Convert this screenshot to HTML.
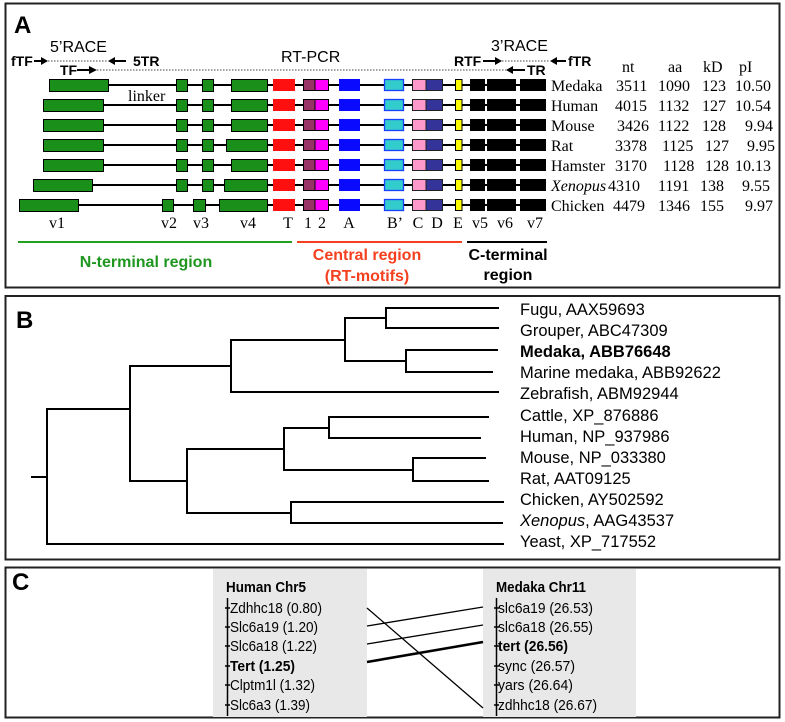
<!DOCTYPE html>
<html><head><meta charset="utf-8"><style>
html,body{margin:0;padding:0;background:#fff;}
svg{display:block;}
.s{font-family:"Liberation Sans",Arial,sans-serif;}
.t{font-family:"Liberation Serif","Times New Roman",serif;}
</style></head><body>
<svg width="785" height="722" viewBox="0 0 785 722" xmlns="http://www.w3.org/2000/svg">
<rect width="785" height="722" fill="#fff"/>
<!-- Panel borders -->
<rect x="5.5" y="3.5" width="774" height="284" fill="none" stroke="#222" stroke-width="2"/>
<rect x="5.5" y="296" width="774" height="263.5" fill="none" stroke="#222" stroke-width="2"/>
<rect x="5.5" y="567.5" width="774" height="150" fill="none" stroke="#222" stroke-width="2"/>

<!-- ============ PANEL A ============ -->
<text x="14" y="33" class="s" font-size="24" font-weight="bold">A</text>
<text x="50" y="52" class="s" font-size="16">5’RACE</text>
<text x="491" y="51" class="s" font-size="16">3’RACE</text>
<text x="281" y="62" class="s" font-size="16">RT-PCR</text>
<g class="s" font-size="14" font-weight="bold">
<text x="11" y="66">fTF</text>
<text x="133" y="66">5TR</text>
<text x="60" y="75">TF</text>
<text x="454" y="66">RTF</text>
<text x="568" y="66">fTR</text>
<text x="527" y="75">TR</text>
</g>
<g stroke="#444" stroke-width="1" stroke-dasharray="1.5 1.5">
<line x1="48" y1="61" x2="108" y2="61"/>
<line x1="97" y1="70" x2="506" y2="70"/>
<line x1="502" y1="61" x2="550" y2="61"/>
</g>
<g stroke="#000" stroke-width="2">
<line x1="34" y1="61" x2="43" y2="61"/>
<line x1="113" y1="61" x2="126" y2="61"/>
<line x1="77" y1="70" x2="91" y2="70"/>
<line x1="483" y1="61" x2="496" y2="61"/>
<line x1="555" y1="61" x2="566" y2="61"/>
<line x1="511" y1="70" x2="525" y2="70"/>
</g>
<g fill="#000">
<polygon points="41,57 48,61 41,65"/>
<polygon points="115,57 108,61 115,65"/>
<polygon points="89,66 97,70 89,74"/>
<polygon points="495,57 502,61 495,65"/>
<polygon points="557,57 550,61 557,65"/>
<polygon points="513,66 506,70 513,74"/>
</g>
<text x="128" y="101" class="t" font-size="16">linker</text>

<!-- rows -->
<g>
<line x1="49" y1="85" x2="546" y2="85" stroke="#000" stroke-width="2"/>
<rect x="49.5" y="79.5" width="59" height="12" fill="#1a8f1a" stroke="#000"/>
<rect x="176.5" y="79.5" width="11" height="12" fill="#1a8f1a" stroke="#000"/>
<rect x="202.5" y="79.5" width="11" height="12" fill="#1a8f1a" stroke="#000"/>
<rect x="231.5" y="79.5" width="36" height="12" fill="#1a8f1a" stroke="#000"/>
</g>
<g>
<line x1="43" y1="105" x2="546" y2="105" stroke="#000" stroke-width="2"/>
<rect x="43.5" y="99.5" width="60" height="12" fill="#1a8f1a" stroke="#000"/>
<rect x="176.5" y="99.5" width="11" height="12" fill="#1a8f1a" stroke="#000"/>
<rect x="202.5" y="99.5" width="11" height="12" fill="#1a8f1a" stroke="#000"/>
<rect x="231.5" y="99.5" width="36" height="12" fill="#1a8f1a" stroke="#000"/>
</g>
<g>
<line x1="43" y1="125" x2="546" y2="125" stroke="#000" stroke-width="2"/>
<rect x="43.5" y="119.5" width="60" height="12" fill="#1a8f1a" stroke="#000"/>
<rect x="176.5" y="119.5" width="11" height="12" fill="#1a8f1a" stroke="#000"/>
<rect x="202.5" y="119.5" width="11" height="12" fill="#1a8f1a" stroke="#000"/>
<rect x="231.5" y="119.5" width="36" height="12" fill="#1a8f1a" stroke="#000"/>
</g>
<g>
<line x1="43" y1="145" x2="546" y2="145" stroke="#000" stroke-width="2"/>
<rect x="43.5" y="139.5" width="60" height="12" fill="#1a8f1a" stroke="#000"/>
<rect x="176.5" y="139.5" width="11" height="12" fill="#1a8f1a" stroke="#000"/>
<rect x="202.5" y="139.5" width="11" height="12" fill="#1a8f1a" stroke="#000"/>
<rect x="226.5" y="139.5" width="41" height="12" fill="#1a8f1a" stroke="#000"/>
</g>
<g>
<line x1="43" y1="165" x2="546" y2="165" stroke="#000" stroke-width="2"/>
<rect x="43.5" y="159.5" width="60" height="12" fill="#1a8f1a" stroke="#000"/>
<rect x="176.5" y="159.5" width="11" height="12" fill="#1a8f1a" stroke="#000"/>
<rect x="202.5" y="159.5" width="11" height="12" fill="#1a8f1a" stroke="#000"/>
<rect x="231.5" y="159.5" width="36" height="12" fill="#1a8f1a" stroke="#000"/>
</g>
<g>
<line x1="33" y1="185" x2="546" y2="185" stroke="#000" stroke-width="2"/>
<rect x="33.5" y="179.5" width="59" height="12" fill="#1a8f1a" stroke="#000"/>
<rect x="176.5" y="179.5" width="11" height="12" fill="#1a8f1a" stroke="#000"/>
<rect x="202.5" y="179.5" width="11" height="12" fill="#1a8f1a" stroke="#000"/>
<rect x="224.5" y="179.5" width="43" height="12" fill="#1a8f1a" stroke="#000"/>
</g>
<g>
<line x1="19" y1="205" x2="546" y2="205" stroke="#000" stroke-width="2"/>
<rect x="19.5" y="199.5" width="59" height="12" fill="#1a8f1a" stroke="#000"/>
<rect x="162.5" y="199.5" width="11" height="12" fill="#1a8f1a" stroke="#000"/>
<rect x="193.5" y="199.5" width="12" height="12" fill="#1a8f1a" stroke="#000"/>
<rect x="219.5" y="199.5" width="48" height="12" fill="#1a8f1a" stroke="#000"/>
</g>
<defs>
<g id="cb">
<rect x="273" y="79" width="22" height="12" fill="#ff1010"/>
<rect x="303.5" y="79.5" width="11.5" height="11" fill="#993366" stroke="#000"/>
<rect x="315" y="79.5" width="13.5" height="11" fill="#ff00ff" stroke="#000"/>
<rect x="339" y="79" width="21" height="12" fill="#0a0aff"/>
<rect x="384.5" y="79.5" width="19" height="11" fill="#33cccc" stroke="#1a40ff" stroke-width="1.3"/>
<rect x="412.5" y="79.5" width="13.5" height="11" fill="#ff99cc" stroke="#222"/>
<rect x="426" y="79.5" width="16.5" height="11" fill="#333399" stroke="#222"/>
<rect x="455.5" y="79.5" width="6.5" height="11" fill="#ffff00" stroke="#000"/>
<rect x="470" y="79" width="15" height="12" fill="#000"/>
<rect x="487" y="79" width="29" height="12" fill="#000"/>
<rect x="520" y="79" width="26" height="12" fill="#000"/>
</g>
</defs>
<use href="#cb" x="0" y="0"/>
<use href="#cb" x="0" y="20"/>
<use href="#cb" x="0" y="40"/>
<use href="#cb" x="0" y="60"/>
<use href="#cb" x="0" y="80"/>
<use href="#cb" x="0" y="100"/>
<use href="#cb" x="0" y="120"/>

<!-- table -->
<g class="t" font-size="16" fill="#000">
<text x="622" y="72">nt</text>
<text x="668" y="72">aa</text>
<text x="703" y="72">kD</text>
<text x="739" y="72">pI</text>

<text x="551" y="91">Medaka</text><text x="616" y="91">3511</text><text x="658" y="91">1090</text><text x="702" y="91">123</text><text x="735" y="91">10.50</text>
<text x="551" y="111">Human</text><text x="615" y="111">4015</text><text x="658" y="111">1132</text><text x="702" y="111">127</text><text x="735" y="111">10.54</text>
<text x="551" y="131">Mouse</text><text x="617" y="131">3426</text><text x="658" y="131">1122</text><text x="702" y="131">128</text><text x="745" y="131">9.94</text>
<text x="551" y="151">Rat</text><text x="615" y="151">3378</text><text x="662" y="151">1125</text><text x="705" y="151">127</text><text x="747" y="151">9.95</text>
<text x="551" y="171">Hamster</text><text x="615" y="171">3170</text><text x="663" y="171">1128</text><text x="705" y="171">128</text><text x="735" y="171">10.13</text>
<text x="551" y="191" font-style="italic">Xenopus</text><text x="608" y="191">4310</text><text x="658" y="191">1191</text><text x="700" y="191">138</text><text x="742" y="191">9.55</text>
<text x="551" y="211">Chicken</text><text x="613" y="211">4479</text><text x="658" y="211">1346</text><text x="700" y="211">155</text><text x="745" y="211">9.97</text>
</g>

<!-- domain labels -->
<g class="t" font-size="16" text-anchor="middle">
<text x="57" y="228">v1</text>
<text x="169" y="228">v2</text>
<text x="201" y="228">v3</text>
<text x="248" y="228">v4</text>
<text x="288" y="228">T</text>
<text x="308" y="228">1</text>
<text x="322" y="228">2</text>
<text x="349" y="228">A</text>
<text x="395" y="228">B’</text>
<text x="418" y="228">C</text>
<text x="437" y="228">D</text>
<text x="458" y="228">E</text>
<text x="480" y="228">v5</text>
<text x="505" y="228">v6</text>
<text x="535" y="228">v7</text>
</g>
<line x1="18" y1="242" x2="292" y2="242" stroke="#22a022" stroke-width="2"/>
<line x1="297" y1="242" x2="462" y2="242" stroke="#f5401f" stroke-width="2"/>
<line x1="467" y1="242" x2="547" y2="242" stroke="#000" stroke-width="2"/>
<g class="s" font-size="16" font-weight="bold" text-anchor="middle">
<text x="146" y="267" fill="#1f961f">N-terminal region</text>
<text x="367" y="260" fill="#f5401f">Central region</text>
<text x="367" y="281" fill="#f5401f">(RT-motifs)</text>
<text x="508" y="260" fill="#000">C-terminal</text>
<text x="508" y="280" fill="#000">region</text>
</g>

<!-- ============ PANEL B ============ -->
<text x="16" y="328" class="s" font-size="24" font-weight="bold">B</text>
<g stroke="#000" stroke-width="2" fill="none" stroke-linecap="square">
<line x1="32" y1="477" x2="47" y2="477"/>
<line x1="47" y1="409" x2="47" y2="544"/>
<line x1="47" y1="544" x2="503" y2="544"/>
<line x1="47" y1="409" x2="130" y2="409"/>
<line x1="130" y1="366" x2="130" y2="481"/>
<line x1="130" y1="366" x2="231" y2="366"/>
<line x1="231" y1="340" x2="231" y2="392"/>
<line x1="231" y1="392" x2="498" y2="392"/>
<line x1="231" y1="340" x2="345" y2="340"/>
<line x1="345" y1="318" x2="345" y2="361"/>
<line x1="345" y1="318" x2="386" y2="318"/>
<line x1="386" y1="308" x2="386" y2="328"/>
<line x1="386" y1="308" x2="498" y2="308"/>
<line x1="386" y1="328" x2="498" y2="328"/>
<line x1="345" y1="361" x2="406" y2="361"/>
<line x1="406" y1="350" x2="406" y2="372"/>
<line x1="406" y1="350" x2="497" y2="350"/>
<line x1="406" y1="372" x2="492" y2="372"/>
<line x1="130" y1="481" x2="187" y2="481"/>
<line x1="187" y1="449" x2="187" y2="513"/>
<line x1="187" y1="449" x2="284" y2="449"/>
<line x1="284" y1="428" x2="284" y2="470"/>
<line x1="284" y1="428" x2="329" y2="428"/>
<line x1="329" y1="417" x2="329" y2="438"/>
<line x1="329" y1="417" x2="488" y2="417"/>
<line x1="329" y1="438" x2="480" y2="438"/>
<line x1="284" y1="470" x2="413" y2="470"/>
<line x1="413" y1="458" x2="413" y2="481"/>
<line x1="413" y1="458" x2="485" y2="458"/>
<line x1="413" y1="481" x2="488" y2="481"/>
<line x1="187" y1="513" x2="291" y2="513"/>
<line x1="291" y1="502" x2="291" y2="523"/>
<line x1="291" y1="502" x2="503" y2="502"/>
<line x1="291" y1="523" x2="502" y2="523"/>
</g>
<g class="s" font-size="16.5" fill="#000">
<text x="520" y="315">Fugu, AAX59693</text>
<text x="520" y="336">Grouper, ABC47309</text>
<text x="520" y="357" font-weight="bold">Medaka, ABB76648</text>
<text x="520" y="378">Marine medaka, ABB92622</text>
<text x="520" y="399">Zebrafish, ABM92944</text>
<text x="520" y="421">Cattle, XP_876886</text>
<text x="520" y="442">Human, NP_937986</text>
<text x="520" y="463">Mouse, NP_033380</text>
<text x="520" y="484">Rat, AAT09125</text>
<text x="520" y="505">Chicken, AY502592</text>
<text x="520" y="526"><tspan font-style="italic">Xenopus</tspan>, AAG43537</text>
<text x="520" y="547">Yeast, XP_717552</text>
</g>

<!-- ============ PANEL C ============ -->
<text x="12" y="590" class="s" font-size="24" font-weight="bold">C</text>
<rect x="213" y="569" width="154" height="148" fill="#e8e8e8"/>
<rect x="483" y="569" width="153" height="148" fill="#e8e8e8"/>
<g stroke="#000" stroke-width="1.5">
<line x1="227.5" y1="598" x2="227.5" y2="716"/>
<line x1="496.5" y1="598" x2="496.5" y2="716"/>
<line x1="225" y1="608" x2="230" y2="608"/>
<line x1="225" y1="627" x2="230" y2="627"/>
<line x1="225" y1="646" x2="230" y2="646"/>
<line x1="225" y1="666" x2="230" y2="666"/>
<line x1="225" y1="685" x2="230" y2="685"/>
<line x1="225" y1="705" x2="230" y2="705"/>
<line x1="494" y1="608" x2="499" y2="608"/>
<line x1="494" y1="627" x2="499" y2="627"/>
<line x1="494" y1="646" x2="499" y2="646"/>
<line x1="494" y1="666" x2="499" y2="666"/>
<line x1="494" y1="685" x2="499" y2="685"/>
<line x1="494" y1="705" x2="499" y2="705"/>
</g>
<g class="s" font-size="15" fill="#000">
<text x="226" y="592" font-weight="bold" font-size="14.5" textLength="80" lengthAdjust="spacingAndGlyphs">Human Chr5</text>
<text x="230" y="613" textLength="92" lengthAdjust="spacingAndGlyphs">Zdhhc18 (0.80)</text>
<text x="230" y="632" textLength="88" lengthAdjust="spacingAndGlyphs">Slc6a19 (1.20)</text>
<text x="230" y="651" textLength="87" lengthAdjust="spacingAndGlyphs">Slc6a18 (1.22)</text>
<text x="230" y="671" font-weight="bold" textLength="65" lengthAdjust="spacingAndGlyphs">Tert (1.25)</text>
<text x="230" y="690" textLength="85" lengthAdjust="spacingAndGlyphs">Clptm1l (1.32)</text>
<text x="230" y="710" textLength="80" lengthAdjust="spacingAndGlyphs">Slc6a3 (1.39)</text>
<text x="496" y="592" font-weight="bold" font-size="14.5" textLength="90" lengthAdjust="spacingAndGlyphs">Medaka Chr11</text>
<text x="498" y="613" textLength="95" lengthAdjust="spacingAndGlyphs">slc6a19 (26.53)</text>
<text x="498" y="632" textLength="95" lengthAdjust="spacingAndGlyphs">slc6a18 (26.55)</text>
<text x="498" y="651" font-weight="bold" textLength="70" lengthAdjust="spacingAndGlyphs">tert (26.56)</text>
<text x="498" y="671" textLength="77" lengthAdjust="spacingAndGlyphs">sync (26.57)</text>
<text x="498" y="690" textLength="75" lengthAdjust="spacingAndGlyphs">yars (26.64)</text>
<text x="498" y="710" textLength="99" lengthAdjust="spacingAndGlyphs">zdhhc18 (26.67)</text>
</g>
<g stroke="#000" stroke-width="1.3">
<line x1="367" y1="608" x2="483" y2="708"/>
<line x1="367" y1="626" x2="483" y2="607"/>
<line x1="367" y1="644" x2="483" y2="625"/>
<line x1="367" y1="662" x2="483" y2="642" stroke-width="2.6"/>
</g>
</svg>
</body></html>
